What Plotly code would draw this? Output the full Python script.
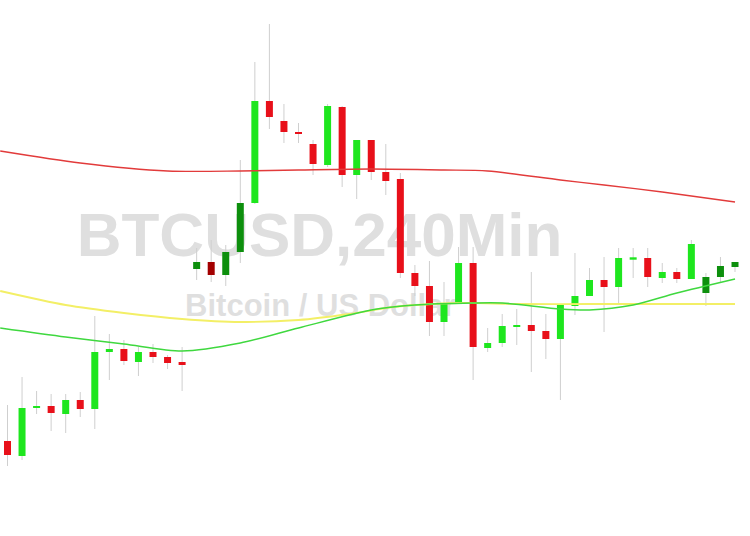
import plotly.graph_objects as go

# Candle data (values on a top-down price scale)
idx = list(range(51))
open_ = [441, 456, 408, 406, 414, 400, 409, 352, 349, 362, 352, 357, 362,
         269, 262, 275, 252, 203, 101, 121, 132, 144, 165, 107, 175, 140,
         172, 179, 273, 286, 322, 303, 263, 348, 343, 327, 325, 331, 339,
         306, 296, 280, 287, 259, 258, 278, 272, 279, 293, 277, 267]
high = [405, 377, 391, 394, 394, 392, 316, 334, 340, 347, 344, 355, 347,
        248, 240, 245, 160, 62, 24, 104, 123, 140, 104, 106, 140, 140,
        144, 173, 265, 261, 282, 247, 247, 328, 314, 309, 272, 314, 305,
        253, 268, 257, 248, 248, 248, 263, 268, 240, 273, 257, 262]
low = [466, 460, 414, 431, 433, 417, 429, 380, 365, 376, 363, 369, 391,
       280, 282, 286, 263, 204, 129, 143, 143, 175, 167, 187, 199, 180,
       195, 278, 296, 336, 336, 303, 380, 352, 347, 345, 372, 359, 400,
       315, 296, 332, 303, 278, 287, 283, 283, 279, 306, 282, 272]
close = [455, 408, 406, 413, 400, 409, 352, 349, 361, 352, 357, 363, 365,
         262, 275, 252, 203, 101, 117, 132, 134, 164, 106, 175, 140, 172,
         181, 273, 286, 322, 303, 263, 347, 343, 326, 325, 331, 339, 305,
         296, 280, 287, 258, 258, 277, 272, 279, 244, 277, 266, 262]
dark = [13, 14, 15, 16, 48, 49, 50]

# Moving averages
ma_red_x = [-0.5, 5, 11, 16, 20, 25, 30, 33, 38, 41, 45, 50]
ma_red_y = [151, 163, 171, 171, 170, 169, 170, 171, 180, 185, 192, 202]
ma_yel_x = [-0.5, 4, 8, 12, 16, 20, 23.5, 26.5, 31, 35, 40, 50]
ma_yel_y = [291, 305, 313, 319, 322, 320, 314, 307, 303, 304, 304, 304]
ma_grn_x = [-0.5, 4, 8, 12, 16, 20, 25, 28, 32, 34, 38, 40, 43, 46, 50]
ma_grn_y = [328, 337, 344, 351, 343, 328, 310, 305, 303, 303, 309, 310, 305, 293, 279]

title_text = "BTCUSD,240Min"
sub_text = "Bitcoin / US Dollar"

LIME = "#1ee61e"
RED = "#e8101a"
DGREEN = "#0d8f0d"
DRED = "#a30000"
WICK = "#cfcfcf"

fig = go.Figure()

# watermark (behind candles)
fig.add_trace(go.Scatter(x=[21.45], y=[240], mode="text", text=[title_text],
                         textfont=dict(family="Liberation Sans, Arial", size=62,
                                       color="#dfdfdf", weight="bold"),
                         hoverinfo="skip", showlegend=False))
fig.add_trace(go.Scatter(x=[21.5], y=[308], mode="text", text=[sub_text],
                         textfont=dict(family="Liberation Sans, Arial", size=31,
                                       color="#dfdfdf", weight="bold"),
                         hoverinfo="skip", showlegend=False))

# wicks
wx, wy = [], []
for i, h, l in zip(idx, high, low):
    wx += [i, i, None]
    wy += [h, l, None]
fig.add_trace(go.Scatter(x=wx, y=wy, mode="lines", line=dict(color=WICK, width=1),
                         hoverinfo="skip", showlegend=False))

# bodies grouped by colour
groups = {LIME: ([], []), RED: ([], []), DGREEN: ([], []), DRED: ([], [])}
for i, o, c in zip(idx, open_, close):
    up = c <= o
    if i in dark:
        col = DGREEN if up else DRED
    else:
        col = LIME if up else RED
    top, bot = min(o, c), max(o, c)
    if bot - top < 2:
        mid = (top + bot) / 2
        top, bot = mid - 1.2, mid + 1.2
    gx, gy = groups[col]
    gx += [i, i, None]
    gy += [top, bot, None]
for col, (gx, gy) in groups.items():
    fig.add_trace(go.Scatter(x=gx, y=gy, mode="lines", line=dict(color=col, width=7),
                             hoverinfo="skip", showlegend=False))

# moving averages
for xs, ys, col, w in [(ma_red_x, ma_red_y, "#e23b3b", 1.4),
                       (ma_yel_x, ma_yel_y, "#f3ef66", 1.8),
                       (ma_grn_x, ma_grn_y, "#3fd83f", 1.5)]:
    fig.add_trace(go.Scatter(x=xs, y=ys, mode="lines",
                             line=dict(color=col, width=w, shape="spline", smoothing=0.8),
                             hoverinfo="skip", showlegend=False))

fig.update_layout(
    width=750, height=536,
    margin=dict(l=0, r=0, t=0, b=0),
    paper_bgcolor="white", plot_bgcolor="white",
    xaxis=dict(range=[-0.515, 51.03], visible=False, fixedrange=True),
    yaxis=dict(range=[536, 0], visible=False, fixedrange=True),
    showlegend=False,
)
fig.write_html("out.html", config={"displayModeBar": False},
               post_script="document.body.style.margin='0';")
